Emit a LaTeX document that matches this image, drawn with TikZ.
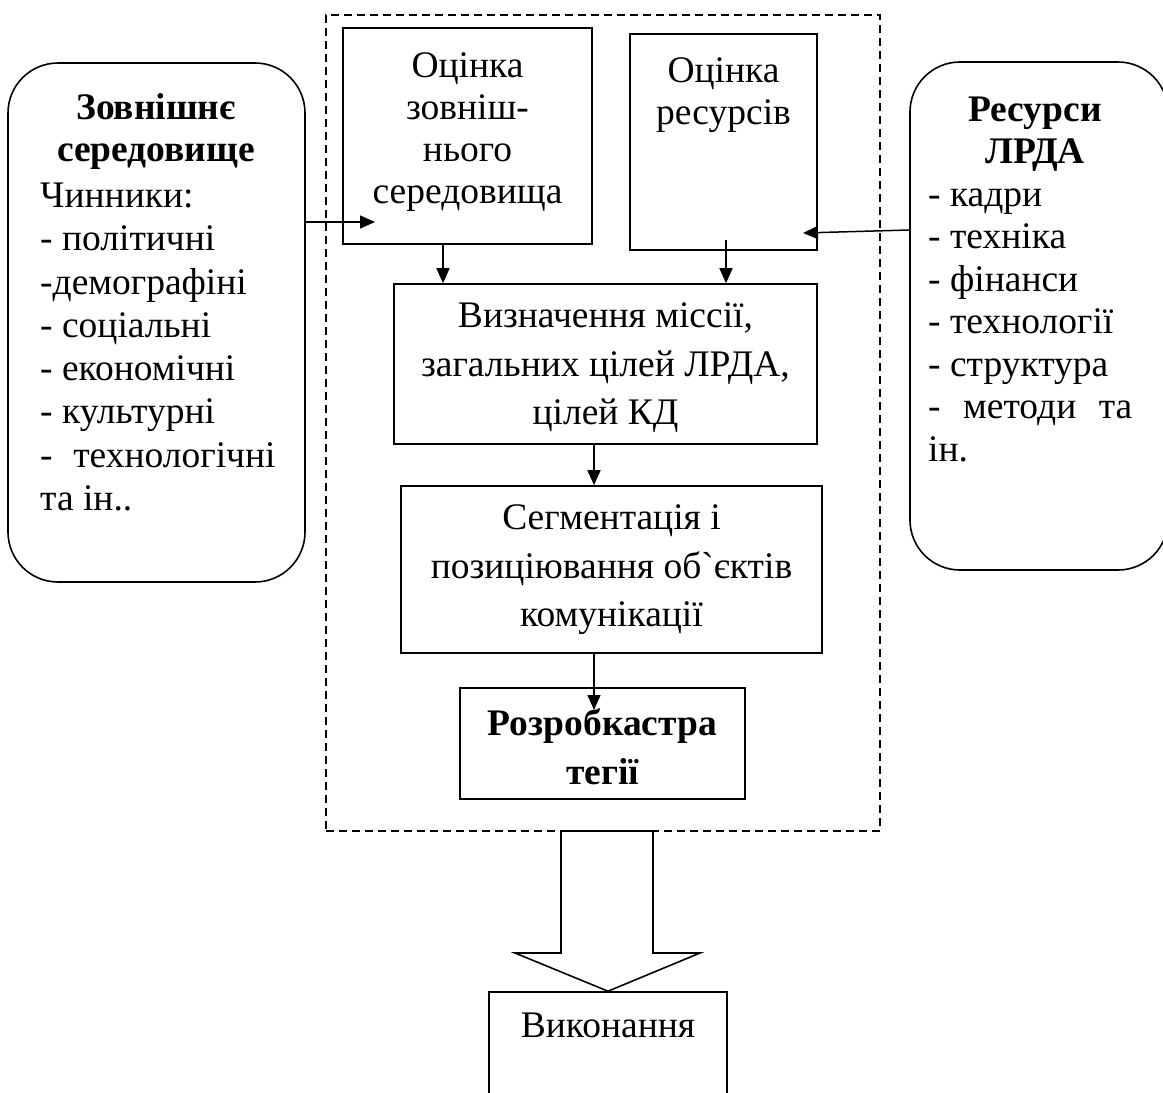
\documentclass[tikz,border=0pt]{standalone}
\usepackage{fontspec}
\setmainfont{Liberation Serif}
\newfontfamily\plainserif{Liberation Serif}[Ligatures=TeXOff]
\usetikzlibrary{arrows.meta,calc}
\begin{document}
\begin{tikzpicture}[x=1pt,y=-1pt,
  box/.style={draw, line width=1.6pt, inner sep=0pt},
  rbox/.style={box, rounded corners=50pt},
  txt/.style={font=\fontsize{37.5}{42}\selectfont, align=center, inner sep=0pt},
  wtxt/.style={font=\fontsize{37.5}{48.5}\selectfont, align=center, inner sep=0pt},
  btxt/.style={font=\fontsize{37.5}{42}\selectfont\bfseries, align=center, inner sep=0pt},
  ltxt/.style={font=\fontsize{37.5}{43.3}\selectfont, align=left, inner sep=0pt},
  arr/.style={-{Triangle[length=15pt,width=13pt]}, line width=1.5pt},
  dashbox/.style={draw, line width=1.5pt, dash pattern=on 8pt off 5pt, inner sep=0pt}]
\useasboundingbox (0,0) rectangle (1163,1093);
\fill[white] (0,0) rectangle (1163,1093);

% dashed frame
\node[dashbox, minimum width=554pt, minimum height=816pt] (frame) at (603,423) {};

% side boxes
\node[rbox, minimum width=297pt, minimum height=519pt] (env) at (156.5,322.5) {};
\node[rbox, minimum width=258pt, minimum height=508pt] (res) at (1039,316) {};

% inner boxes
\node[box, minimum width=249pt, minimum height=216pt] (b1) at (467.5,136) {};
\node[box, minimum width=187pt, minimum height=216pt] (b2) at (723.5,142) {};
\node[box, minimum width=423pt, minimum height=160pt] (b3) at (605.5,364) {};
\node[box, minimum width=421pt, minimum height=167pt] (b4) at (611.5,569.5) {};
\node[box, minimum width=285pt, minimum height=111pt] (b5) at (602.5,743.5) {};
\node[box, minimum width=238pt, minimum height=140pt] (b6) at (608,1062) {};

% texts
\node[txt] (t1) at (467.5,132) {Оцінка\\зовніш-\\нього\\середовища};
\node[txt] (t2) at (723.5,95) {Оцінка\\ресурсів};
\node[wtxt] (t3) at (605.5,368) {Визначення міссії,\\загальних цілей ЛРДА,\\цілей КД};
\node[wtxt] (t4) at (611.5,570) {Сегментація і\\позиціювання об{\plainserif`}єктів\\комунікації};
\node[wtxt, font=\fontsize{37.5}{49}\selectfont\bfseries] (t5) at (602.5,747) {Розробкастра\\тегії};
\node[txt] (t6) at (608,1025) {Виконання};

\node[btxt] (envt) at (156,131) {Зовнішнє\\середовище};
\node[ltxt, anchor=west] (envl) at (40,347) {Чинники:\\- політичні\\-демографіні\\- соціальні\\- економічні\\- культурні\\-\hspace{0.55em}технологічні\\та ін..};
\node[btxt] (rest) at (1035,134) {Ресурси\\ЛРДА};
\node[ltxt, anchor=west, font=\fontsize{37.5}{42.5}\selectfont] (resl) at (928,325) {- кадри\\- техніка\\- фінанси\\- технології\\- структура\\-\hspace{0.6em}методи\hspace{0.6em}та\\ін.};

% connectors
\coordinate (a1) at (375,222);
\coordinate (a2) at (803,233);
\coordinate (c1) at (443,0);
\coordinate (c2) at (726,240);
\coordinate (c3) at (594,0);
\coordinate (c4) at (594,710);
\draw[arr] (env.east |- a1) -- (a1);
\draw[arr] (res.west |- 0,230) -- (a2);
\draw[arr] (b1.south -| c1) -- (b3.north -| c1);
\draw[arr] (c2) -- (b3.north -| c2);
\draw[arr] (b3.south -| c3) -- (b4.north -| c3);
\draw[arr] (b4.south -| c3) -- (c4);

% big hollow arrow from the frame to "Виконання"
\draw[line width=1.6pt, line join=miter]
  (561,831) -- (561,953) -- (515,953) -- (b6.north) -- (700,953) -- (653,953) -- (653,831) -- cycle;
\end{tikzpicture}
\end{document}
